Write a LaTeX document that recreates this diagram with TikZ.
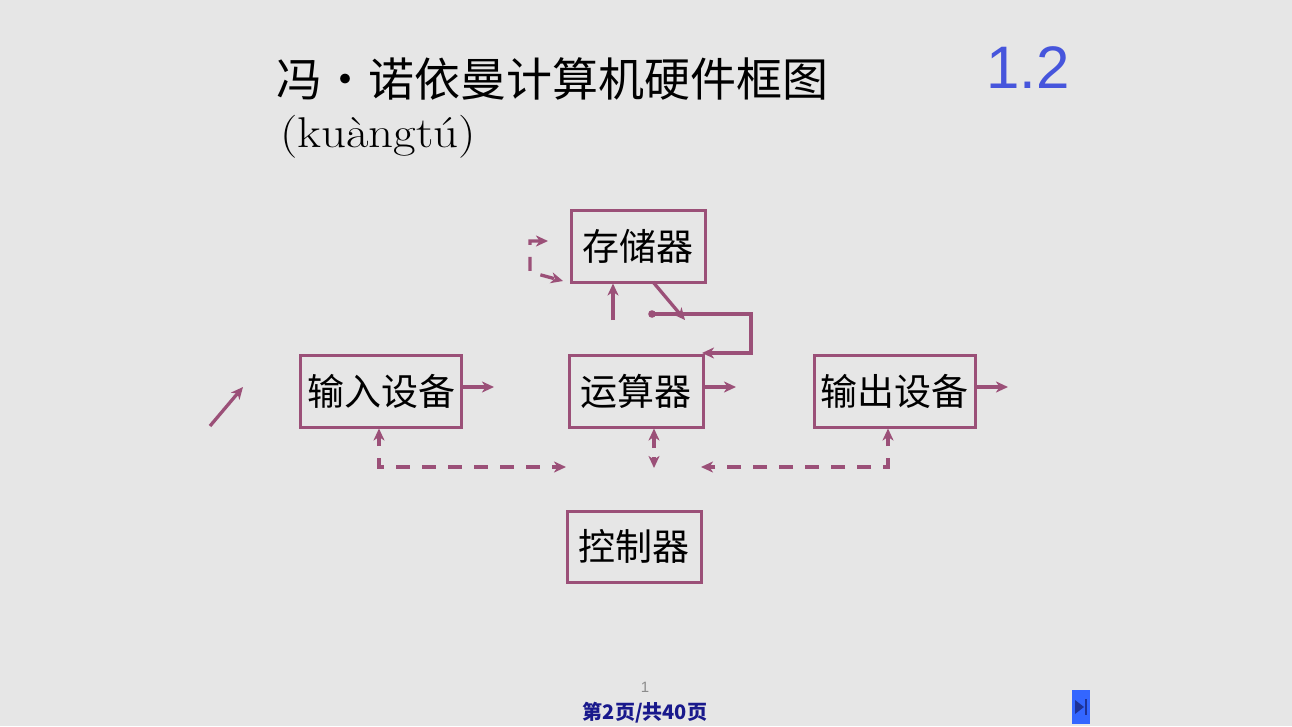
\documentclass[tikz,border=0pt]{standalone}
\usepackage{fontspec}
\usetikzlibrary{arrows.meta}
\newfontfamily\cjk{Noto Sans CJK SC}
\newfontfamily\arialf{Liberation Sans}
\definecolor{bgc}{RGB}{230,230,230}
\definecolor{boxc}{RGB}{155,80,120}
\definecolor{numc}{RGB}{70,85,220}
\definecolor{navyc}{RGB}{25,25,140}
\definecolor{btnc}{RGB}{51,102,255}
\definecolor{btnd}{RGB}{30,50,150}
\tikzset{
  box/.style={draw=boxc, line width=3pt, minimum width=134pt, minimum height=72pt, inner sep=0pt, font=\cjk\fontsize{37}{37}\selectfont},
  wbox/.style={box, minimum width=161pt},
  tip/.tip={Stealth[length=12pt,width=11pt,inset=3.5pt]},
  arr/.style={draw=boxc, line width=3.3pt, -tip},
  darr/.style={arr, dash pattern=on 14pt off 12pt},
  dline/.style={draw=boxc, line width=3.3pt, dash pattern=on 14pt off 12pt},
}
\begin{document}
\begin{tikzpicture}[x=1pt,y=-1pt]
\fill[bgc] (0,0) rectangle (1292,726);
\useasboundingbox (0,0) rectangle (1292,726);
% titles
\node[anchor=west, inner sep=0pt, font=\cjk\fontsize{46}{46}\selectfont] (title) at (276,79) {冯・诺依曼计算机硬件框图};
\node[anchor=west, inner sep=0pt, font=\fontsize{43}{43}\selectfont, xscale=1.14] (pinyin) at (280,137) {(kuàngtú)};
\node[inner sep=0pt, text=numc, font=\arialf\fontsize{60}{60}\selectfont] (num) at (1028,68) {1.2};
% boxes
\node[box] (mem) at (638,246) {存储器};
\node[box] (alu) at (636,391) {运算器};
\node[wbox] (in) at (381,391) {输入设备};
\node[wbox] (out) at (894.5,391) {输出设备};
\node[box, minimum height=71pt] (ctl) at (634,546.5) {控制器};
% memory self loop (dashed)
\coordinate (l1) at (548,241);
\coordinate (l2) at (530,241);
\coordinate (l3) at (530,272);
\coordinate (l4) at (563,281);
\draw[dline, tip-tip] (l1) -- (l2) -- (l3) -- (l4);
% ALU -> memory
\coordinate (u1) at (613,320);
\draw[arr] (u1) -- (u1 |- mem.south);
% memory -> loop back to ALU
\coordinate (m1) at (653,282);
\coordinate (m2) at (685,320);
\draw[arr] (m1) -- (m2);
\coordinate (d1) at (652,314);
\coordinate (d2) at (751,314);
\coordinate (d3) at (751,353);
\coordinate (d4) at (702,353);
\fill[boxc] (d1) circle (3.8pt);
\draw[arr] (d1) -- (d2) -- (d3) -- (d4);
% right arrows
\coordinate (r1) at (494,387);
\draw[arr] (in.east |- r1) -- (r1);
\coordinate (r2) at (736,387);
\draw[arr] (alu.east |- r2) -- (r2);
\coordinate (r3) at (1008,387);
\draw[arr] (out.east |- r3) -- (r3);
% left diagonal arrow
\coordinate (g1) at (210,426);
\coordinate (g2) at (243,387);
\draw[arr] (g1) -- (g2);
% bottom control arrows
\coordinate (b1) at (379,446);
\draw[arr] (b1) -- (b1 |- in.south);
\coordinate (b2) at (379,458);
\coordinate (b3) at (379,467);
\coordinate (b4) at (566,467);
\draw[darr] (b2) -- (b3) -- (b4);
\coordinate (c1) at (654,448);
\draw[arr] (c1) -- (c1 |- alu.south);
\coordinate (c2) at (654,457);
\coordinate (c3) at (654,468);
\draw[arr] (c2) -- (c3);
\coordinate (e1) at (888,446);
\draw[arr] (e1) -- (e1 |- out.south);
\coordinate (e2) at (888,458);
\coordinate (e3) at (888,467);
\coordinate (e4) at (701,467);
\draw[darr] (e2) -- (e3) -- (e4);
% footer
\node[inner sep=0pt, text=black!45, font=\arialf\fontsize{15}{15}\selectfont] (pg) at (645,687) {1};
\node[inner sep=0pt, text=navyc, font=\cjk\bfseries\fontsize{20}{20}\selectfont] (foot) at (645,713) {第2页/共40页};
\node[fill=btnc, minimum width=18pt, minimum height=34pt, inner sep=0pt] (btn) at (1081,707) {};
\fill[btnd] (1075,700) -- (1084,707) -- (1075,714) -- cycle;
\fill[btnd] (1085,699) rectangle (1087,715);
\end{tikzpicture}
\end{document}
